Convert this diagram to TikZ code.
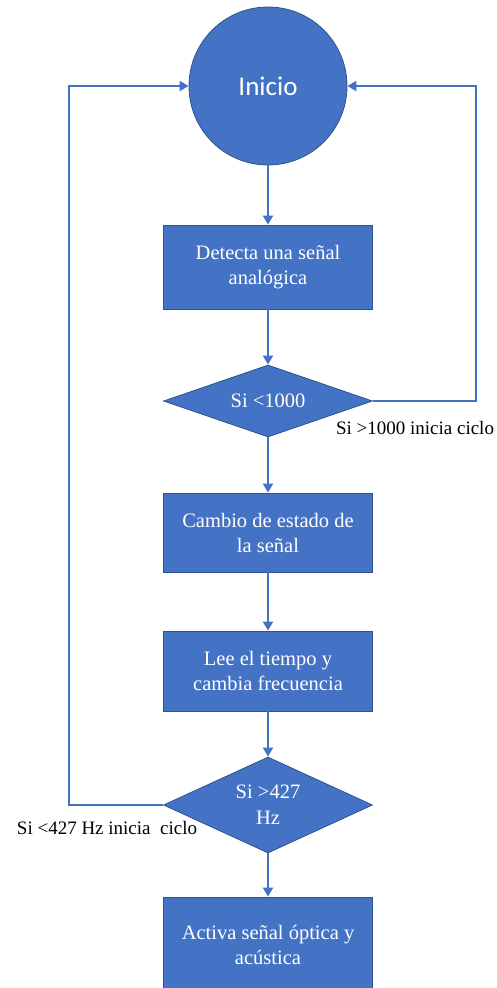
\documentclass[tikz,border=0pt]{standalone}
\usepackage{fontspec}
\setmainfont{Liberation Serif}
\newfontfamily\calibri{Carlito}
\usetikzlibrary{shapes.geometric,arrows.meta}
\definecolor{azul}{HTML}{4472C4}
\definecolor{borde}{HTML}{2F528F}
\tikzset{
  caja/.style={rectangle, fill=azul, draw=borde, line width=0.8pt, minimum width=209pt,
    inner sep=0pt, text=white, align=center, font=\fontsize{20.5}{25}\selectfont},
  decision/.style={diamond, fill=azul, draw=borde, line width=0.8pt, minimum width=209pt,
    inner sep=0pt, text=white, align=center, font=\fontsize{20.5}{26}\selectfont},
  flecha/.style={draw=azul, line width=2pt, -{Triangle[length=9pt,width=10pt]}},
  nota/.style={font=\fontsize{19}{22}\selectfont, text=black}
}
\begin{document}
\begin{tikzpicture}[x=1pt,y=-1pt]
    \useasboundingbox (0,0) rectangle (497,988);

    % inicio
    \node[circle, fill=azul, draw=borde, line width=0.8pt, minimum size=158pt, inner sep=0pt,
      text=white, font=\calibri\fontsize{27}{30}\selectfont] (inicio) at (268,86) {Inicio};

    % bloques
    \node[caja, minimum height=84pt] (detecta) at (268,267) {Detecta una señal\\analógica};
    \node[decision, minimum height=72pt, aspect=2.9] (si1000) at (268,401) {Si <1000};
    \node[caja, minimum height=79pt] (cambio) at (268,532.5) {Cambio de estado de\\la señal};
    \node[caja, minimum height=80pt] (lee) at (268,671) {Lee el tiempo y\\cambia frecuencia};
    \node[decision, minimum height=96pt, aspect=2.2] (si427) at (268,805) {Si >427\\Hz};
    \node[caja, minimum height=96pt] (activa) at (268,945) {Activa señal óptica y\\acústica};

    % flechas principales
    \draw[flecha] (inicio) -- (detecta);
    \draw[flecha] (detecta) -- (si1000);
    \draw[flecha] (si1000) -- (cambio);
    \draw[flecha] (cambio) -- (lee);
    \draw[flecha] (lee) -- (si427);
    \draw[flecha] (si427) -- (activa);

    % regresos al inicio
    \coordinate (der) at (476,401);
    \coordinate (izq) at (69,805);
    \draw[flecha] (si1000.east) -- (der) |- (inicio.east);
    \draw[flecha] (si427.west) -- (izq) |- (inicio.west);

    % notas
    \node[nota] (nota1000) at (415,428) {Si >1000 inicia ciclo};
    \node[nota] (nota427) at (107,828) {Si <427 Hz inicia\ \ ciclo};

\end{tikzpicture}
\end{document}
